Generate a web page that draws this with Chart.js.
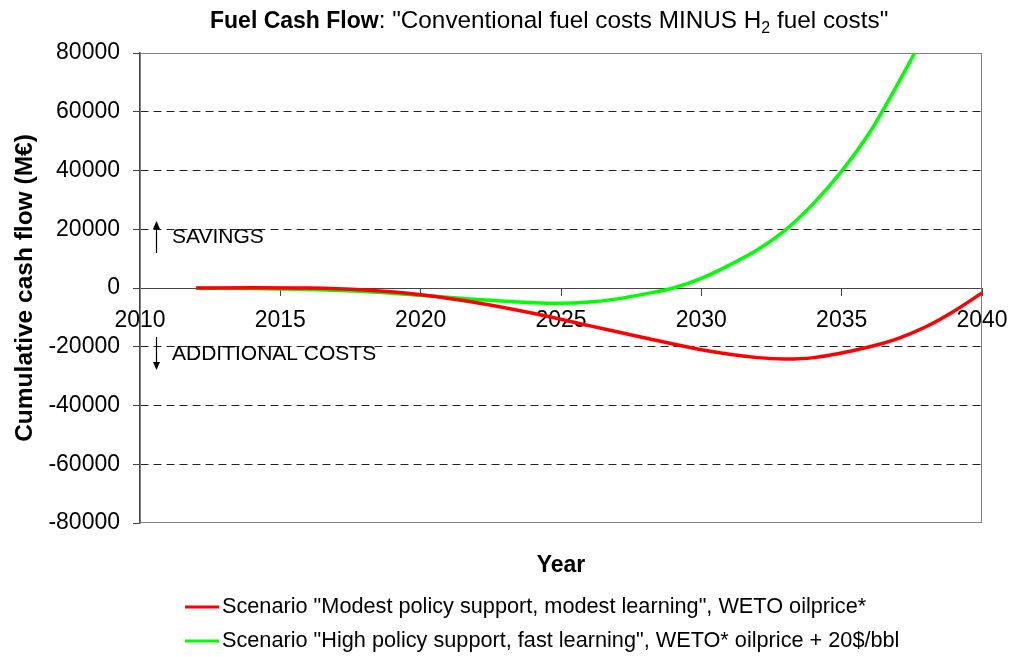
<!DOCTYPE html>
<html lang="en">
<head>
    <meta charset="UTF-8">
    <title>Fuel Cash Flow</title>
    <script src="https://cdn.jsdelivr.net/npm/chart.js@4.4.4/dist/chart.umd.min.js"></script>
</head>
<body style="margin: 0; background: #fff;">
    <div style="width: 1010px; height: 657px;">
        <canvas id="cashChart"></canvas>
    </div>

    <script>
        // Courbes (année, cash flow cumulé en M€)
        const modestYears = [2012, 2014, 2016, 2018, 2020, 2022, 2024, 2026, 2028, 2030, 2032, 2033, 2034, 2036, 2037, 2038, 2039, 2040];
        const modestValues = [0, 100, 0, -700, -2300, -5000, -8600, -12800, -17000, -21000, -23700, -24200, -23700, -20000, -17200, -13200, -7900, -1700];

        const highYears = [2012, 2014, 2016, 2018, 2020, 2022, 2024, 2025, 2026, 2027, 2028, 2029, 2030, 2031, 2032, 2033, 2034, 2035, 2036, 2037, 2037.6];
        const highValues = [0, -200, -500, -1200, -2500, -3900, -5000, -5200, -4800, -3700, -2000, 0, 3300, 7800, 13000, 19800, 28800, 39800, 53000, 69500, 80000];

        const seriesLabels = [
            'Scenario "Modest policy support, modest learning", WETO oilprice*',
            'Scenario "High policy support, fast learning", WETO* oilprice + 20$/bbl'
        ];
        const seriesColors = ['#ff0000', '#00ff00'];

        const FONT = '"Liberation Sans", Arial, sans-serif';

        function toPoints(xs, ys) {
            return xs.map((x, i) => ({ x: x, y: ys[i] }));
        }

        // Titre, annotations, légende et cadre dessinés à la main
        const decorations = {
            id: 'decorations',
            beforeDatasetsDraw(chart) {
                const { ctx, chartArea: a } = chart;
                ctx.save();
                ctx.strokeStyle = '#808080';
                ctx.lineWidth = 1;
                ctx.strokeRect(a.left + 0.5, a.top + 0.5, a.right - a.left - 1, a.bottom - a.top - 1);
                ctx.restore();
            },
            afterDraw(chart) {
                const { ctx, chartArea: a } = chart;
                const cx = (a.left + a.right) / 2;
                ctx.save();
                ctx.fillStyle = '#000';
                ctx.textBaseline = 'alphabetic';

                // titre avec partie en gras et indice
                const p1 = 'Fuel Cash Flow';
                const p2 = ': "Conventional fuel costs MINUS H';
                const p3 = '2';
                const p4 = ' fuel costs"';
                ctx.font = 'bold 23px ' + FONT;
                const w1 = ctx.measureText(p1).width;
                ctx.font = '24.3px ' + FONT;
                const w2 = ctx.measureText(p2).width;
                ctx.font = '16px ' + FONT;
                const w3 = ctx.measureText(p3).width;
                let x = 210;
                const ty = 28;
                ctx.textAlign = 'left';
                ctx.font = 'bold 23px ' + FONT;
                ctx.fillText(p1, x, ty); x += w1;
                ctx.font = '24.3px ' + FONT;
                ctx.fillText(p2, x, ty); x += w2;
                ctx.font = '16px ' + FONT;
                ctx.fillText(p3, x, ty + 5); x += w3;
                ctx.font = '24.3px ' + FONT;
                ctx.fillText(p4, x, ty);

                // titre axe X
                ctx.textAlign = 'center';
                ctx.font = 'bold 23px ' + FONT;
                ctx.fillText('Year', cx, 572);

                // SAVINGS / ADDITIONAL COSTS
                ctx.textAlign = 'left';
                ctx.textBaseline = 'middle';
                ctx.font = '21px ' + FONT;
                ctx.fillText('SAVINGS', 172, 237);
                ctx.fillText('ADDITIONAL COSTS', 172, 354);

                ctx.strokeStyle = '#000';
                ctx.lineWidth = 1.2;
                ctx.beginPath();
                ctx.moveTo(156.5, 253); ctx.lineTo(156.5, 226);
                ctx.moveTo(156.5, 337); ctx.lineTo(156.5, 364);
                ctx.stroke();
                ctx.beginPath();
                ctx.moveTo(156.5, 221); ctx.lineTo(153, 229); ctx.lineTo(160, 229); ctx.closePath();
                ctx.moveTo(156.5, 370); ctx.lineTo(153, 362); ctx.lineTo(160, 362); ctx.closePath();
                ctx.fill();

                // légende
                ctx.font = '21.7px ' + FONT;
                const ly = [607, 641];
                seriesLabels.forEach((lab, i) => {
                    ctx.strokeStyle = seriesColors[i];
                    ctx.lineWidth = 3;
                    ctx.beginPath();
                    ctx.moveTo(185, ly[i]);
                    ctx.lineTo(219, ly[i]);
                    ctx.stroke();
                    ctx.fillStyle = '#000';
                    ctx.fillText(lab, 222, ly[i]);
                });
                ctx.restore();
            }
        };

        const ctx = document.getElementById('cashChart').getContext('2d');
        const chart = new Chart(ctx, {
            type: 'line',
            data: {
                datasets: [
                    {
                        label: seriesLabels[0],
                        data: toPoints(modestYears, modestValues),
                        borderColor: seriesColors[0],
                        borderWidth: 3.5,
                        pointRadius: 0,
                        fill: false,
                        cubicInterpolationMode: 'monotone'
                    },
                    {
                        label: seriesLabels[1],
                        data: toPoints(highYears, highValues),
                        borderColor: seriesColors[1],
                        borderWidth: 3.5,
                        pointRadius: 0,
                        fill: false,
                        cubicInterpolationMode: 'monotone'
                    }
                ]
            },
            options: {
                responsive: true,
                maintainAspectRatio: false,
                animation: false,
                layout: { padding: { left: 0, top: 53, right: 28, bottom: 134 } },
                plugins: {
                    legend: { display: false },
                    title: { display: false },
                    tooltip: { enabled: false }
                },
                scales: {
                    x: {
                        type: 'linear',
                        position: { y: 0 },
                        min: 2010,
                        max: 2040,
                        afterFit(scale) {
                            scale.paddingLeft = 0;
                            scale.paddingRight = 0;
                        },
                        ticks: {
                            stepSize: 5,
                            padding: 12,
                            color: '#000',
                            font: { family: FONT, size: 23 },
                            maxRotation: 0,
                            callback: v => String(v)
                        },
                        grid: {
                            drawOnChartArea: false,
                            drawTicks: true,
                            tickLength: 7,
                            tickColor: '#444'
                        },
                        border: { color: '#444', width: 1 }
                    },
                    y: {
                        min: -80000,
                        max: 80000,
                        afterFit(scale) { scale.width = 140; },
                        ticks: {
                            stepSize: 20000,
                            padding: 13,
                            color: '#000',
                            font: { family: FONT, size: 23 },
                            callback: v => String(v)
                        },
                        grid: {
                            color: c => (Math.abs(c.tick.value) === 80000 ? 'rgba(0,0,0,0)' : '#222'),
                            lineWidth: 1,
                            tickLength: 7,
                            tickColor: '#444'
                        },
                        border: { color: '#444', width: 1.5, dash: [8, 5] },
                        title: {
                            display: true,
                            text: 'Cumulative cash flow (M€)',
                            color: '#000',
                            font: { family: FONT, size: 24.5, weight: 'bold' },
                            padding: { top: 11, bottom: 0 }
                        }
                    }
                }
            },
            plugins: [decorations]
        });
    </script>
</body>
</html>
